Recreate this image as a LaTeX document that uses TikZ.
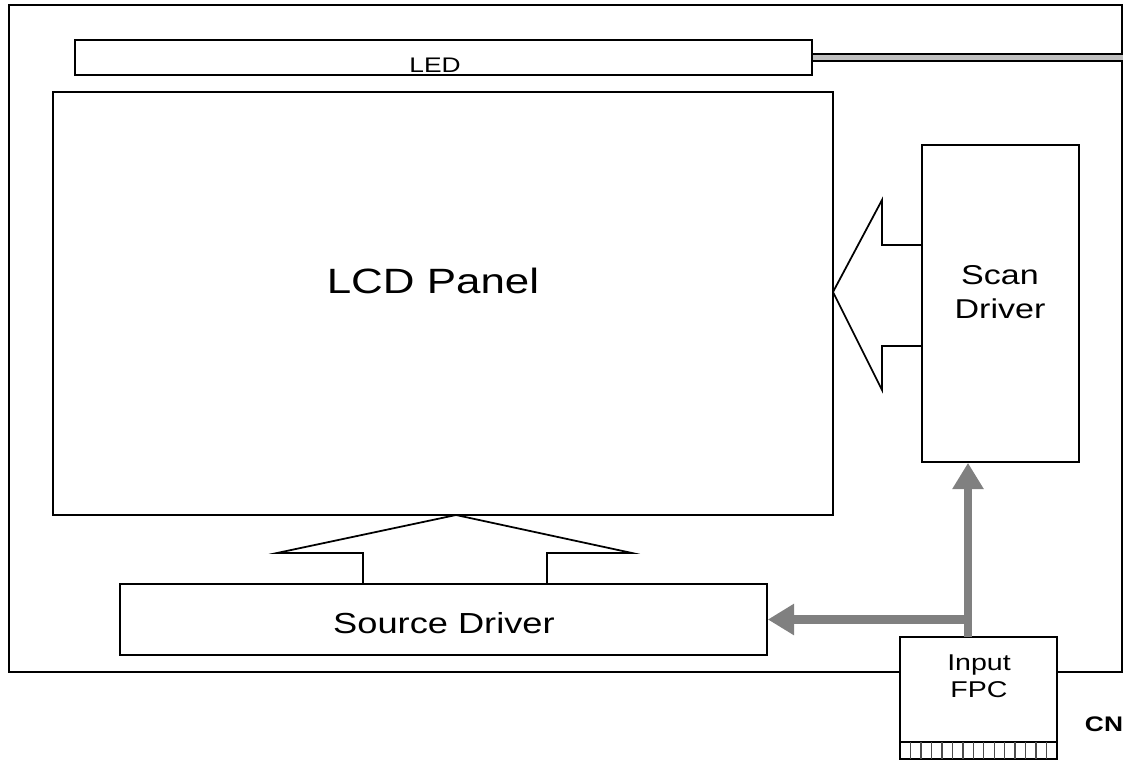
\documentclass[tikz,border=0pt]{standalone}
\usepackage{fontspec}
\setmainfont{Liberation Sans}[FakeStretch=1.25]
\usetikzlibrary{arrows.meta}

\begin{document}
\begin{tikzpicture}[x=0.02cm,y=-0.02cm,
        box/.style={draw,line width=1pt,inner sep=0pt,fill=white},
        txt/.style={inner sep=0pt,align=center},
        feed/.style={draw=gray,line width=5pt,-{Triangle[width=17pt,length=15pt]}}]
        \useasboundingbox (0,0) rectangle (1133,764);

        % Outer frame
        \node[box,fill=none,minimum width=22.26cm,minimum height=13.34cm] (frame) at (565.5,338.5) {};

        % LED bar and its lead
        \node[box,minimum width=14.74cm,minimum height=0.70cm] (led) at (443.5,57.5) {};
        \node[txt,font=\fontsize{12}{14}\selectfont] (ledtxt) at (435,65.5) {LED};
        \draw[line width=0.9pt,double=lightgray,double distance=2.8pt] (led.east) -- (led.east -| frame.east);

        % Panel
        \node[box,minimum width=15.6cm,minimum height=8.46cm] (panel) at (443,303.5) {};
        \node[txt,font=\fontsize{20}{24}\selectfont] (paneltxt) at (433,281) {LCD Panel};

        % Scan driver
        \node[box,minimum width=3.14cm,minimum height=6.34cm] (scan) at (1000.5,303.5) {};
        \node[txt,font=\fontsize{15.5}{19.3}\selectfont] (scantxt) at (1000,292) {Scan\\Driver};

        % Source driver
        \node[box,minimum width=12.94cm,minimum height=1.42cm] (src) at (443.5,619.5) {};
        \node[txt,font=\fontsize{16.5}{20}\selectfont] (srctxt) at (444,623) {Source Driver};

        % Open arrows into the panel
        \draw[line width=1pt,line join=miter] (922,245) -- (882,245) -- (882,200) -- (833,292) -- (882,390) -- (882,346) -- (922,346);
        \draw[line width=1pt,line join=miter] (363,584) -- (363,553) -- (277,553) -- (456,515) -- (632,553) -- (547,553) -- (547,584);

        % Input FPC
        \node[box,minimum width=3.14cm,minimum height=2.44cm] (fpc) at (978.5,698) {};
        \node[txt,font=\fontsize{13}{15.3}\selectfont] (fpctxt) at (979,676) {Input\\FPC};
        \draw[line width=1pt] (fpc.west |- 0,742) -- (fpc.east |- 0,742);
        \foreach \i in {1,...,14}
            \draw[black!70,line width=0.8pt] (900+\i*10.47,742) -- (900+\i*10.47,759);
        \node[txt,font=\bfseries\fontsize{12}{14}\selectfont] (cn) at (1104,724) {CN};

        % Signal feed
        \coordinate (j) at (968,637);
        \draw[feed] (j) -- (j |- scan.south);
        \draw[feed,-] (j |- src.east) -- (j);
        \draw[feed] (j |- src.east) -- (src.east);

\end{tikzpicture}
\end{document}
